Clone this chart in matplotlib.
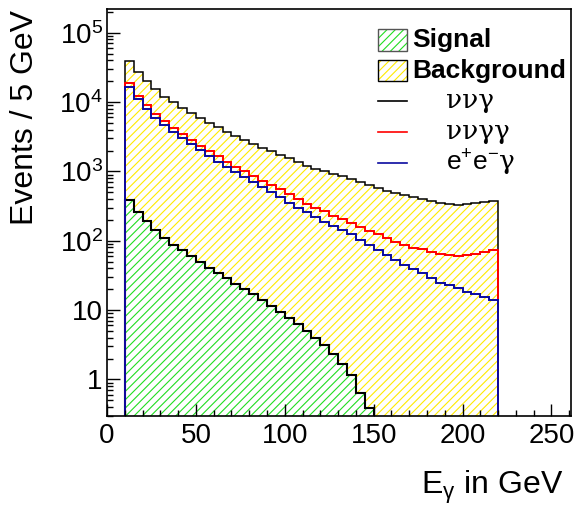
import numpy as np
import matplotlib
matplotlib.use('Agg')
import matplotlib.pyplot as plt
import matplotlib.ticker as ticker
from matplotlib.patches import Rectangle
from matplotlib.lines import Line2D

plt.rcParams['font.family'] = 'Liberation Sans'
plt.rcParams['mathtext.fontset'] = 'custom'
plt.rcParams['mathtext.rm'] = 'Liberation Sans'
plt.rcParams['mathtext.it'] = 'Liberation Sans:italic'
plt.rcParams['mathtext.bf'] = 'Liberation Sans:bold'
plt.rcParams['mathtext.sf'] = 'Liberation Sans'
plt.rcParams['hatch.linewidth'] = 0.8

# photon energy bins, 5 GeV wide, 10 .. 220 GeV
edges = np.arange(10, 225, 5)

# nu nu gamma (top of the background stack)
nng = [39000, 27400, 20300, 15200, 12000, 10000, 8350, 7000, 5930, 5010,
       4330, 3755, 3250, 2810, 2494, 2203, 1946, 1745, 1563, 1368,
       1197, 1094, 1007, 926, 852, 784, 703, 627, 571, 526,
       487, 450, 421, 399, 373, 352, 341, 330, 335, 347,
       361, 377]

# nu nu gamma gamma
nngg = [19010, 12170, 8930, 6770, 5290, 4250, 3478, 2876, 2355, 1946,
        1648, 1381, 1169, 1013, 858, 733, 635, 549, 471, 406,
        344, 295, 270, 231, 205, 179, 160, 139, 124, 109,
        97, 87, 79, 76, 68, 64, 62, 60, 62, 64,
        68, 74]

# e+ e- gamma
eeg = [16650, 10910, 8000, 5985, 4634, 3718, 3003, 2459, 2014, 1648,
       1381, 1158, 980, 819, 693, 587, 503, 426, 349, 301,
       258, 223, 189, 165, 143, 124, 103, 87, 74, 62,
       53, 45, 39, 34, 29, 25, 23, 20.5, 18.3, 17,
       15.5, 13.9]

# signal, 10 .. 150 GeV
signal = [389, 258, 194, 143, 111, 87, 74, 60, 50, 41,
          34, 28.7, 23.7, 20, 16.8, 13.9, 11.5, 9.4, 7.7, 6.2,
          4.95, 3.96, 3.1, 2.35, 1.69, 1.14, 0.64, 0.39]
sig_edges = edges[:len(signal) + 1]

W, H = 581, 505
fig = plt.figure(figsize=(W / 100, H / 100), dpi=100)
ax = fig.add_axes([107 / W, 1 - 415.7 / H, (571 - 107) / W, (415.7 - 9) / H])

yellow = '#ffea00'
green = '#22dd22'
blue = '#0a0aa0'
base = 1e-3

ax.stairs(nng, edges, baseline=base, fill=True, facecolor='none',
          edgecolor=yellow, hatch='////', linewidth=0)
ax.stairs(signal, sig_edges, baseline=base, fill=True, facecolor='white',
          edgecolor=green, hatch='////', linewidth=0)
ax.stairs(signal, sig_edges, baseline=base, color='black', linewidth=1.5)
ax.stairs(nng, edges, baseline=base, color='black', linewidth=1.1)
ax.stairs(nngg, edges, baseline=base, color='red', linewidth=1.4)
ax.stairs(eeg, edges, baseline=base, color=blue, linewidth=1.4)

ax.set_yscale('log')
ax.set_ylim(0.3, 2.2e5)
ax.set_xlim(0, 261)

ax.xaxis.set_major_locator(ticker.MultipleLocator(50))
ax.xaxis.set_minor_locator(ticker.MultipleLocator(10))
ax.yaxis.set_major_locator(ticker.LogLocator(base=10, numticks=20))
ax.yaxis.set_minor_locator(ticker.LogLocator(base=10, subs=np.arange(2, 10), numticks=20))
ax.yaxis.set_minor_formatter(ticker.NullFormatter())

def ylab(v, pos):
    if v == 1:
        return '1'
    if v == 10:
        return '10'
    return r'$10^{%d}$' % round(np.log10(v))

ax.yaxis.set_major_formatter(ticker.FuncFormatter(ylab))
ax.tick_params(which='both', direction='in', top=False, right=False, width=1)
ax.tick_params(which='major', length=9, labelsize=20)
ax.tick_params(axis='x', which='major', pad=5)
ax.tick_params(axis='y', which='major', pad=3)
ax.tick_params(which='minor', length=4.5)
for s in ax.spines.values():
    s.set_linewidth(1.2)

fig.text(25 / W, 1 - 10 / H, 'Events / 5 GeV', rotation=90, ha='center', va='top', fontsize=23)
fig.text(563 / W, 1 - 494 / H, r'E$_{\mathrm{\gamma}}$ in GeV', ha='right', va='baseline', fontsize=23)

# legend, drawn by hand in figure pixels
def fx(x):
    return x / W

def fy(y):
    return 1 - y / H

rows = [40, 70.7, 100.5, 131.5, 162.5]
bx0, bx1 = 378, 407
for y, col, ec in zip(rows[:2], [green, yellow], ['#555555', 'black']):
    fig.patches.append(Rectangle((fx(bx0), fy(y + 10.5)), fx(bx1 - bx0), 21 / H,
                                 transform=fig.transFigure, facecolor='white',
                                 edgecolor=col, hatch='////', linewidth=0))
    fig.patches.append(Rectangle((fx(bx0), fy(y + 10.5)), fx(bx1 - bx0), 21 / H,
                                 transform=fig.transFigure, facecolor='none',
                                 edgecolor=ec, linewidth=1))
fig.text(fx(412), fy(rows[0]), 'Signal', fontsize=19, fontweight='bold', va='center')
fig.text(fx(412), fy(rows[1]), 'Background', fontsize=19, fontweight='bold', va='center')

for y, col, lab in zip(rows[2:], ['black', 'red', blue],
                       ['ννγ', 'ννγγ', r'$\mathsf{e}^{+}\mathsf{e}^{-}$γ']):
    fig.lines.append(Line2D([fx(bx0), fx(bx1)], [fy(y), fy(y)], transform=fig.transFigure,
                            color=col, linewidth=1.2))
    fig.text(fx(446), fy(y), lab, fontsize=19, va='center', family='DejaVu Serif')

fig.savefig('out.png', dpi=100)
